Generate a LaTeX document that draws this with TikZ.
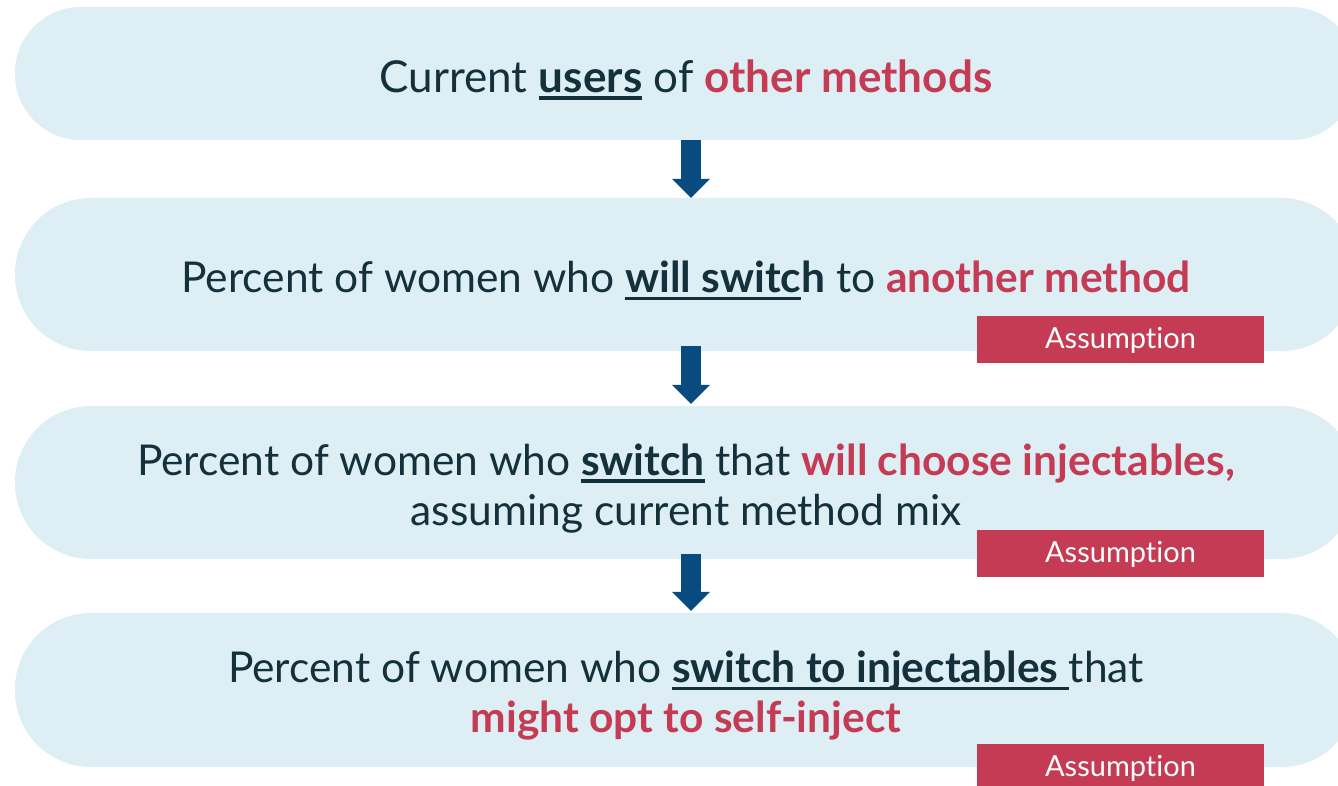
\documentclass[tikz,border=0pt]{standalone}
\usepackage{fontspec}
\setmainfont{Lato}[Ligatures=NoCommon]
\usetikzlibrary{arrows.meta}
\definecolor{boxfill}{HTML}{DDEEF5}
\definecolor{txtdark}{HTML}{13303B}
\definecolor{accent}{HTML}{C43B53}
\definecolor{arrowblue}{HTML}{084B80}
\newsavebox\ulbox
\newcommand\myul[1]{\sbox\ulbox{#1}\rlap{\rule[-0.17em]{\wd\ulbox}{0.075em}}\usebox\ulbox}
\newcommand\hl[1]{\textcolor{accent}{\textbf{#1}}}
\begin{document}
\begin{tikzpicture}[x=1pt,y=-1pt,
  stage/.style={fill=boxfill, minimum width=1342pt, inner sep=0pt},
  stagetext/.style={text=txtdark, align=center, inner sep=0pt, font=\fontsize{42.5}{50}\selectfont},
  tag/.style={fill=accent, text=white, minimum width=287pt, minimum height=47pt, inner sep=0pt, text height=21pt, text depth=3pt, font=\fontsize{29}{32}\selectfont},
  flow/.style={arrowblue, line width=20pt, -{Triangle[width=38pt,length=19pt,line width=0pt]}}
]
\useasboundingbox (0,0) rectangle (1338,786);
\fill[white] (0,0) rectangle (1338,786);
\node[stage, minimum height=133pt, rounded corners=66pt] (b1) at (686,73.5) {};
\node[stage, minimum height=153pt, rounded corners=76pt] (b2) at (686,274.5) {};
\node[stage, minimum height=153pt, rounded corners=76pt] (b3) at (686,482.5) {};
\node[stage, minimum height=154pt, rounded corners=76pt] (b4) at (686,690) {};
\node[stagetext, font=\fontsize{44}{50}\selectfont] (l1) at ([yshift=-6pt]b1.center) {Current \myul{\textbf{users}} of \hl{other methods}};
\node[stagetext] (l2) at ([yshift=-6pt]b2.center) {Percent of women who \myul{\textbf{will switc}}\textbf{h} to \hl{another method}};
\node[stagetext] (l3) at ([yshift=-6pt]b3.center) {Percent of women who \myul{\textbf{switch}} that \hl{will choose injectables,}\\ assuming current method mix};
\node[stagetext] (l4) at ([yshift=-6pt]b4.center) {Percent of women who \myul{\textbf{switch to injectables\ }}that\\ \hl{might opt to self-inject}};
\draw[flow] ([xshift=5pt]b1.south) -- ([xshift=5pt]b2.north);
\draw[flow] ([xshift=5pt,yshift=5pt]b2.south) -- ([xshift=5pt,yshift=2pt]b3.north);
\draw[flow] ([xshift=5pt,yshift=5pt]b3.south) -- ([xshift=5pt,yshift=2pt]b4.north);
\node[tag] (t1) at (1120.5,339.5) {Assumption};
\node[tag] (t2) at (1120.5,553) {Assumption};
\node[tag] (t3) at (1120.5,767.5) {Assumption};
\end{tikzpicture}
\end{document}
